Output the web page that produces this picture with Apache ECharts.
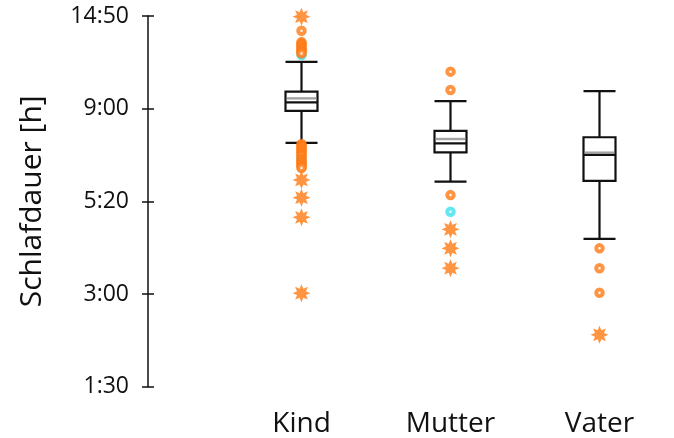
<!DOCTYPE html>
<html>
<head>
<meta charset="utf-8">
<script src="https://cdn.jsdelivr.net/npm/echarts@6/dist/echarts.min.js"></script>
<style>html,body{margin:0;padding:0;background:#fff}#c{width:674px;height:438px}</style>
</head>
<body>
<div id="c"></div>
<script>
// ---- data (hours, decimal) ----
const categories = ['Kind', 'Mutter', 'Vater'];
const tickHours = [1.5, 3, 16 / 3, 9, 89 / 6];
const tickLabels = ['1:30', '3:00', '5:20', '9:00', '14:50'];
// [lower whisker, Q1, median, Q3, upper whisker]
const boxKind = [7.65, 8.91, 9.40, 10.07, 11.94];
const boxMutter = [6.11, 7.27, 7.63, 8.12, 9.48];
const boxVater = [4.39, 6.14, 7.17, 7.87, 10.11];
const means = [9.65, 7.80, 7.26];
// outliers (circles)
const circlesKind = [13.91, 13.19, 13.10, 13.01, 12.91, 12.81, 12.72, 12.63, 12.55, 12.48,
  7.60, 7.54, 7.48, 7.42, 7.36, 7.30, 7.24, 7.18, 7.12, 7.01, 6.95, 6.89, 6.83, 6.77, 6.71, 6.65];
const circlesMutter = [11.33, 10.17, 5.58];
const circlesVater = [4.15, 3.65, 3.03];
// second group of outliers (cyan circles)
const cyanKind = [12.37, 7.05];
const cyanMutter = [5.07];
// extreme values (stars)
const starsKind = [14.79, 6.18, 5.48, 4.93, 3.02];
const starsMutter = [4.63, 4.15, 3.65];
const starsVater = [2.34];

// ---- axis transform: tick labels are equally spaced ----
function toAxis(h) {
  let i = 0;
  while (i < tickHours.length - 2 && h > tickHours[i + 1]) i++;
  return i + (h - tickHours[i]) / (tickHours[i + 1] - tickHours[i]);
}
function pts(arrs) {
  const out = [];
  arrs.forEach((a, ci) => a.forEach(h => out.push([ci, toAxis(h)])));
  return out;
}
// asterisk-like star symbol
function starPath() {
  let d = '';
  const n = 8;
  for (let k = 0; k < 2 * n; k++) {
    const a = Math.PI * k / n - Math.PI / 2;
    const r = k % 2 === 0 ? 10 : 5.4;
    const x = (10 + r * Math.cos(a)).toFixed(2), y = (10 + r * Math.sin(a)).toFixed(2);
    d += (k === 0 ? 'M' : 'L') + x + ' ' + y + ' ';
  }
  return 'path://' + d + 'Z';
}

const FONT = '"Open Sans", Lato, sans-serif';
const ORANGE = '#ff7a14';
const CYAN = '#3fe0f0';

const chart = echarts.init(document.getElementById('c'), null, { renderer: 'canvas' });
chart.setOption({
  animation: false,
  backgroundColor: '#fff',
  grid: { left: 227, right: -33, top: 16, height: 370.7 },
  xAxis: {
    type: 'category',
    data: categories,
    axisLine: { show: false },
    axisTick: { show: false },
    splitLine: { show: false },
    axisLabel: { fontSize: 28, color: '#111', fontFamily: FONT, margin: 23 }
  },
  yAxis: [{
    type: 'value', min: 0, max: 4, interval: 1, offset: 79,
    axisLine: { show: true, lineStyle: { color: '#111', width: 1.5 } },
    axisTick: { show: true, length: 6, lineStyle: { color: '#111', width: 1.5 } },
    splitLine: { show: false },
    axisLabel: { fontSize: 23, color: '#111', fontFamily: FONT, margin: 19,
      formatter: v => tickLabels[Math.round(v)] },
    name: 'Schlafdauer [h]', nameLocation: 'middle', nameRotate: 90, nameGap: 101,
    nameTextStyle: { fontSize: 30, color: '#111', fontFamily: FONT }
  }, {
    type: 'value', min: 0, max: 4, interval: 1, offset: 79, position: 'left',
    axisLine: { show: false },
    axisTick: { show: true, inside: true, length: 6, lineStyle: { color: '#111', width: 1.5 } },
    splitLine: { show: false },
    axisLabel: { show: false }
  }],
  series: [
    {
      type: 'boxplot', z: 2,
      boxWidth: [32, 32],
      itemStyle: { color: '#fff', borderColor: '#111', borderWidth: 2.2 },
      data: [boxKind, boxMutter, boxVater].map(b => b.map(toAxis))
    },
    {
      type: 'scatter', z: 3, symbol: 'rect', symbolSize: [30, 2.4],
      itemStyle: { color: '#8c8c8c' },
      data: means.map((m, i) => [i, toAxis(m)])
    },
    {
      type: 'scatter', z: 4, symbol: 'circle', symbolSize: 6.5,
      itemStyle: { color: '#fff', borderColor: CYAN, borderWidth: 4 },
      data: pts([cyanKind, cyanMutter, []])
    },
    {
      type: 'scatter', z: 5, symbol: 'circle', symbolSize: 6.5,
      itemStyle: { color: '#fff', borderColor: ORANGE, borderWidth: 4 },
      data: pts([circlesKind, circlesMutter, circlesVater])
    },
    {
      type: 'scatter', z: 5, symbol: starPath(), symbolSize: 18,
      itemStyle: { color: ORANGE },
      data: pts([starsKind, starsMutter, starsVater])
    }
  ]
});
</script>
</body>
</html>
